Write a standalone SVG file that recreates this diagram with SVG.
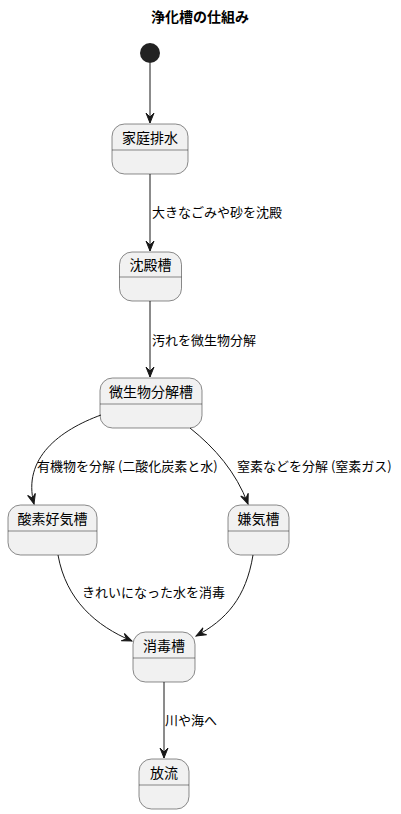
<svg xmlns="http://www.w3.org/2000/svg" width="401" height="814" viewBox="0 0 401 814">
<style>
text{font-family:"Noto Sans CJK JP","Noto Sans",sans-serif;fill:#000}
.st rect{fill:#F1F1F1;stroke:#181818;stroke-width:0.5}
.st line{stroke:#181818;stroke-width:0.5}
.st text{font-size:14px;text-anchor:middle}
.lb{font-size:13px}
#edges path{fill:none;stroke:#181818;stroke-width:1}
</style>
<defs>
<marker id="ah" markerUnits="userSpaceOnUse" markerWidth="12" markerHeight="12" viewBox="-1 -5 12 10" refX="10" refY="0" orient="auto">
<path d="M10,0 L0,-4 L4,0 L0,4 Z" fill="#181818" stroke="#181818" stroke-width="1"/>
</marker>
</defs>
<rect width="401" height="814" fill="#FFFFFF"/>
<text x="200" y="22" font-size="14" font-weight="bold" text-anchor="middle">浄化槽の仕組み</text>
<g id="start"><circle cx="150" cy="53" r="10" fill="#222222"/></g>
<g id="s1" class="st"><rect x="112" y="124" width="76" height="50" rx="12.5"/><line x1="112" y1="150" x2="188" y2="150"/><text x="150" y="143">家庭排水</text></g>
<g id="s2" class="st"><rect x="119.5" y="252" width="62" height="49" rx="12.5"/><line x1="119.5" y1="277" x2="181.5" y2="277"/><text x="150.5" y="270">沈殿槽</text></g>
<g id="s3" class="st"><rect x="100" y="378" width="102" height="50" rx="12.5"/><line x1="100" y1="404" x2="202" y2="404"/><text x="151" y="397">微生物分解槽</text></g>
<g id="s4" class="st"><rect x="8" y="505" width="89" height="50" rx="12.5"/><line x1="8" y1="531" x2="97" y2="531"/><text x="52.5" y="524">酸素好気槽</text></g>
<g id="s5" class="st"><rect x="228" y="505" width="61" height="50" rx="12.5"/><line x1="228" y1="531" x2="289" y2="531"/><text x="258.5" y="524">嫌気槽</text></g>
<g id="s6" class="st"><rect x="133" y="632" width="62" height="50" rx="12.5"/><line x1="133" y1="658" x2="195" y2="658"/><text x="164" y="651">消毒槽</text></g>
<g id="s7" class="st"><rect x="139" y="759" width="50" height="50" rx="12.5"/><line x1="139" y1="785" x2="189" y2="785"/><text x="164" y="778">放流</text></g>
<g id="edges">
<path d="M150,63 L150,123" marker-end="url(#ah)"/>
<path d="M150,174 L150,251" marker-end="url(#ah)"/>
<path d="M150,301 L150,377" marker-end="url(#ah)"/>
<path d="M101,415 C60,430 22,458 34,504" marker-end="url(#ah)"/>
<path d="M190,428 C215,448 236,472 248,504" marker-end="url(#ah)"/>
<path d="M58,555 C66,600 96,626 132,641" marker-end="url(#ah)"/>
<path d="M253,555 C246,598 226,620 196,636" marker-end="url(#ah)"/>
<path d="M164,682 L164,758" marker-end="url(#ah)"/>
<text class="lb" x="152" y="217">大きなごみや砂を沈殿</text>
<text class="lb" x="152" y="345">汚れを微生物分解</text>
<text class="lb" x="37" y="471">有機物を分解 (二酸化炭素と水)</text>
<text class="lb" x="237" y="471">窒素などを分解 (窒素ガス)</text>
<text class="lb" x="82" y="597">きれいになった水を消毒</text>
<text class="lb" x="165" y="725">川や海へ</text>
</g>
</svg>
